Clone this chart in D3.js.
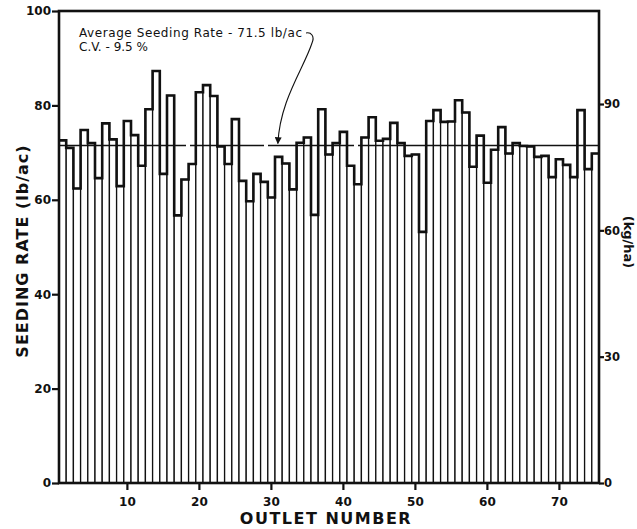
<!DOCTYPE html>
<html>
<head>
<meta charset="utf-8">
<script src="https://cdn.jsdelivr.net/npm/d3@7"></script>
<style>
	body { margin: 0; background: #fff; }
	text { font-family: "DejaVu Sans", sans-serif; fill: #111; }
</style>
</head>
<body>
<div id="chart"></div>
<script>
// seeding rate per outlet (lb/ac), outlets 1..75
const SEEDING_RATES = [
	72.6, 71.0, 62.4, 74.8, 72.0, 64.6, 76.2, 72.8, 62.9, 76.7,
	73.7, 67.2, 79.2, 87.3, 65.5, 82.1, 56.7, 64.3, 67.6, 82.8,
	84.3, 82.0, 71.3, 67.6, 77.1, 64.0, 59.7, 65.5, 63.8, 60.5,
	69.1, 67.7, 62.2, 72.1, 73.2, 56.8, 79.2, 69.6, 72.0, 74.4,
	67.2, 63.3, 73.2, 77.5, 72.5, 72.9, 76.3, 72.0, 69.3, 69.6,
	53.2, 76.7, 79.0, 76.5, 76.6, 81.1, 78.5, 67.0, 73.6, 63.6,
	70.6, 75.4, 69.8, 72.0, 71.4, 71.3, 69.1, 69.3, 64.8, 68.6,
	67.4, 64.8, 79.0, 66.5, 69.8
];
const OUTLETS = SEEDING_RATES.map((d, i) => i + 1);
const AVERAGE_RATE = 71.5;
const CV = 9.5;

const X_TICKS = [10, 20, 30, 40, 50, 60, 70];
const Y_TICKS = [0, 20, 40, 60, 80, 100];
const KGHA_TICKS = [0, 30, 60, 90];
const LB_TO_KG = 1.12085;

const WIDTH = 637;
const HEIGHT = 529;
const MARGIN = {
	TOP: 11,
	RIGHT: 38,
	BOTTOM: 46,
	LEFT: 59,
};
const PLOT_W = WIDTH - MARGIN.LEFT - MARGIN.RIGHT;
const PLOT_H = HEIGHT - MARGIN.TOP - MARGIN.BOTTOM;

const svg = d3.select("#chart")
	.append("svg")
		.attr("width", WIDTH)
		.attr("height", HEIGHT);

const g = svg.append("g")
	.attr("transform", `translate(${MARGIN.LEFT}, ${MARGIN.TOP})`);

const x = d3.scaleBand()
	.domain(OUTLETS)
	.range([0, PLOT_W])
	.padding(0);

const y = d3.scaleLinear()
	.domain([0, 100])
	.range([PLOT_H, 0]);

const yKg = d3.scaleLinear()
	.domain([0, 100 * LB_TO_KG])
	.range([PLOT_H, 0]);

// bars (thin outlines)
g.selectAll("rect.bar")
	.data(SEEDING_RATES)
	.enter().append("rect")
		.attr("class", "bar")
		.attr("x", (d, i) => x(OUTLETS[i]))
		.attr("y", d => y(d))
		.attr("width", x.bandwidth())
		.attr("height", d => PLOT_H - y(d))
		.attr("fill", "#fff")
		.attr("stroke", "#111")
		.attr("stroke-width", 1.3);

// heavier stepped outline along the bar tops
const stepPts = [];
SEEDING_RATES.forEach((d, i) => {
	stepPts.push([x(OUTLETS[i]), y(d)]);
	stepPts.push([x(OUTLETS[i]) + x.bandwidth(), y(d)]);
});
g.append("path")
	.attr("d", d3.line()(stepPts))
	.attr("fill", "none")
	.attr("stroke", "#111")
	.attr("stroke-width", 2.6)
	.attr("stroke-linejoin", "miter");

// average line
g.append("line")
	.attr("x1", 0)
	.attr("x2", PLOT_W)
	.attr("y1", y(AVERAGE_RATE))
	.attr("y2", y(AVERAGE_RATE))
	.attr("stroke", "#111")
	.attr("stroke-width", 1.5)
	.attr("stroke-dasharray", "127,4,74,4,86,4,400");

// axes
const xAxisCall = d3.axisBottom(x).tickValues(X_TICKS).tickSize(7).tickSizeOuter(0);
const yAxisCall = d3.axisLeft(y).tickValues(Y_TICKS).tickSize(7).tickSizeOuter(0);
const kgAxisCall = d3.axisRight(yKg).tickValues(KGHA_TICKS).tickSize(5).tickSizeOuter(0);

const xAxisGroup = g.append("g")
	.attr("transform", `translate(0, ${PLOT_H})`)
	.call(xAxisCall);
const yAxisGroup = g.append("g")
	.call(yAxisCall);
const kgAxisGroup = g.append("g")
	.attr("transform", `translate(${PLOT_W}, 0)`)
	.call(kgAxisCall);

[xAxisGroup, yAxisGroup, kgAxisGroup].forEach(ax => {
	ax.select(".domain").remove();
	ax.selectAll("line").attr("stroke", "#111").attr("stroke-width", 2.2);
	ax.selectAll("text")
		.attr("font-size", 12)
		.attr("font-weight", "bold")
		.attr("fill", "#111");
});
xAxisGroup.selectAll("text").attr("dy", "1.1em");
yAxisGroup.selectAll("text").attr("x", -8);
kgAxisGroup.selectAll("text").attr("x", 5).attr("font-size", 11.5);

// frame
g.append("rect")
	.attr("x", 0)
	.attr("y", 0)
	.attr("width", PLOT_W)
	.attr("height", PLOT_H)
	.attr("fill", "none")
	.attr("stroke", "#111")
	.attr("stroke-width", 2.6);

// axis titles
svg.append("text")
	.attr("x", -(MARGIN.TOP + 240))
	.attr("y", 28)
	.attr("transform", "rotate(-90)")
	.attr("text-anchor", "middle")
	.attr("font-size", 16)
	.attr("font-weight", "bold")
	.attr("letter-spacing", 1)
	.text("SEEDING RATE  (lb/ac)");

svg.append("text")
	.attr("x", MARGIN.LEFT + PLOT_W / 2 - 3)
	.attr("y", 524)
	.attr("text-anchor", "middle")
	.attr("font-size", 16)
	.attr("font-weight", "bold")
	.attr("letter-spacing", 1.5)
	.text("OUTLET  NUMBER");

svg.append("text")
	.attr("x", 242)
	.attr("y", -624)
	.attr("transform", "rotate(90)")
	.attr("text-anchor", "middle")
	.attr("font-size", 13)
	.attr("font-weight", "bold")
	.text("(kg/ha)");

// annotation
svg.append("text")
	.attr("x", 79)
	.attr("y", 37)
	.attr("font-size", 12)
	.attr("textLength", 223)
	.attr("lengthAdjust", "spacing")
	.text(`Average Seeding Rate - ${AVERAGE_RATE} lb/ac`);
svg.append("text")
	.attr("x", 79)
	.attr("y", 51)
	.attr("font-size", 12)
	.text(`C.V. - ${CV} %`);

svg.append("defs").append("marker")
	.attr("id", "arrow")
	.attr("viewBox", "0 0 10 10")
	.attr("refX", 9)
	.attr("refY", 5)
	.attr("markerWidth", 7)
	.attr("markerHeight", 7)
	.attr("markerUnits", "userSpaceOnUse")
	.attr("orient", "auto")
	.append("path")
		.attr("d", "M0,0 L10,5 L0,10 Z")
		.attr("fill", "#111");

const tipX = MARGIN.LEFT + x(31) + x.bandwidth() * 0.4;
const tipY = MARGIN.TOP + y(AVERAGE_RATE) - 2;
svg.append("path")
	.attr("d", `M306,33 C311,32 315,36 312,43 C304,68 ${tipX + 2},100 ${tipX},${tipY}`)
	.attr("fill", "none")
	.attr("stroke", "#111")
	.attr("stroke-width", 1.1)
	.attr("marker-end", "url(#arrow)");
</script>
</body>
</html>
